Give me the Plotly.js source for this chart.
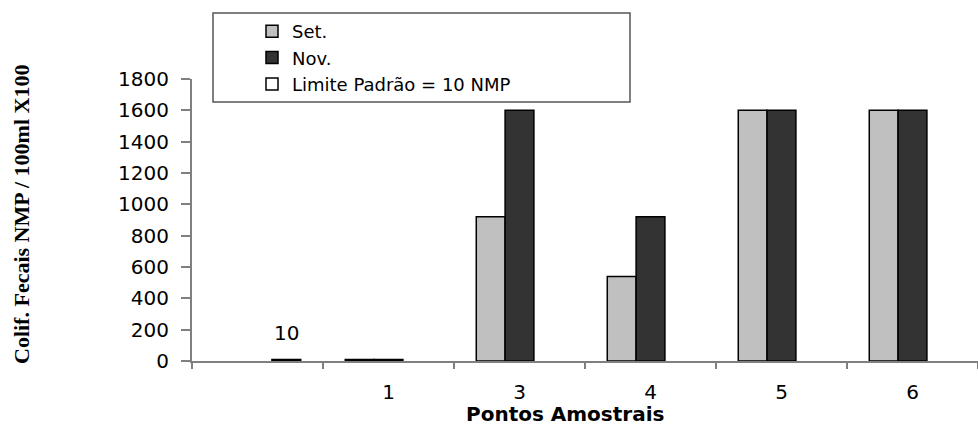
<!DOCTYPE html>
<html>
<head>
<meta charset="utf-8">
<script src="https://cdn.plot.ly/plotly-3.0.1.min.js"></script>
<style>html,body{margin:0;padding:0;background:#fff;}#chart{width:978px;height:428px;}</style>
</head>
<body>
<div id="chart"></div>
<script>
var categories = ["p0", "p1", "p3", "p4", "p5", "p6"];
var tickLabels = ["", "1", "3", "4", "5", "6"];
var setValues = [null, 10, 920, 540, 1600, 1600];
var novValues = [null, 10, 1600, 920, 1600, 1600];
var limiteValues = [10, null, null, null, null, null];
var limiteLabel = "10";

var SANS = "DejaVu Sans, Liberation Sans, Arial, sans-serif";
var line = {color: "#000000", width: 1.5};
var traces = [
  {type: "bar", name: "Set.", x: categories, y: setValues,
   marker: {color: "#c0c0c0", line: line}},
  {type: "bar", name: "Nov.", x: categories, y: novValues,
   marker: {color: "#333333", line: line}},
  {type: "bar", name: "Limite Padrão = 10 NMP", x: categories, y: limiteValues,
   marker: {color: "#ffffff", line: line}}
];

var W = 786, H = 282;
var layout = {
  width: 978, height: 428,
  margin: {l: 192, r: 0, t: 79, b: 67, pad: 0},
  paper_bgcolor: "#fff", plot_bgcolor: "#fff",
  barmode: "group", bargap: 0.34, bargroupgap: 0,
  font: {family: SANS, size: 20, color: "#000"},
  showlegend: true,
  legend: {x: (252 - 192) / W, y: (361 - 13) / H, xanchor: "left", yanchor: "top",
           bgcolor: "rgba(0,0,0,0)", borderwidth: 0,
           font: {family: SANS, size: 18, color: "#000"},
           traceorder: "normal"},
  xaxis: {type: "category", tickvals: categories, ticktext: tickLabels,
          showgrid: false, zeroline: false, showline: true, linecolor: "#808080", linewidth: 2,
          ticks: "outside", tickson: "boundaries", ticklen: 6, tickcolor: "#808080", tickwidth: 2,
          ticklabelstandoff: 12, tickfont: {size: 20}},
  yaxis: {range: [0, 1800], dtick: 200, tick0: 0,
          showgrid: false, zeroline: false, showline: true, linecolor: "#808080", linewidth: 2,
          ticks: "outside", ticklen: 9, tickcolor: "#808080", tickwidth: 2,
          ticklabelstandoff: 8, tickfont: {size: 20}},
  shapes: [{type: "rect", xref: "paper", yref: "paper",
            x0: (213 - 192) / W, x1: (630 - 192) / W,
            y0: (361 - 102) / H, y1: (361 - 13) / H,
            line: {color: "#555555", width: 1.5}, fillcolor: "rgba(0,0,0,0)"}],
  annotations: [
    {text: "Colif. Fecais NMP / 100ml X100", textangle: -90,
     xref: "paper", yref: "paper", x: (21 - 192) / W, y: (361 - 215) / H,
     xanchor: "center", yanchor: "middle", showarrow: false,
     font: {family: "Liberation Serif, Times New Roman, serif", size: 22, weight: "bold", color: "#000"}},
    {text: "Pontos Amostrais",
     xref: "paper", yref: "paper", x: (565 - 192) / W, y: (361 - 414) / H,
     xanchor: "center", yanchor: "middle", showarrow: false,
     font: {family: SANS, size: 20, weight: "bold", color: "#000"}},
    {text: limiteLabel, x: categories[0], y: limiteValues[0], xref: "x", yref: "y",
     xshift: 29, yshift: 26, showarrow: false, xanchor: "center", yanchor: "middle",
     font: {family: SANS, size: 20, color: "#000"}}
  ]
};

Plotly.newPlot("chart", traces, layout, {displayModeBar: false, staticPlot: true});
</script>
</body>
</html>
